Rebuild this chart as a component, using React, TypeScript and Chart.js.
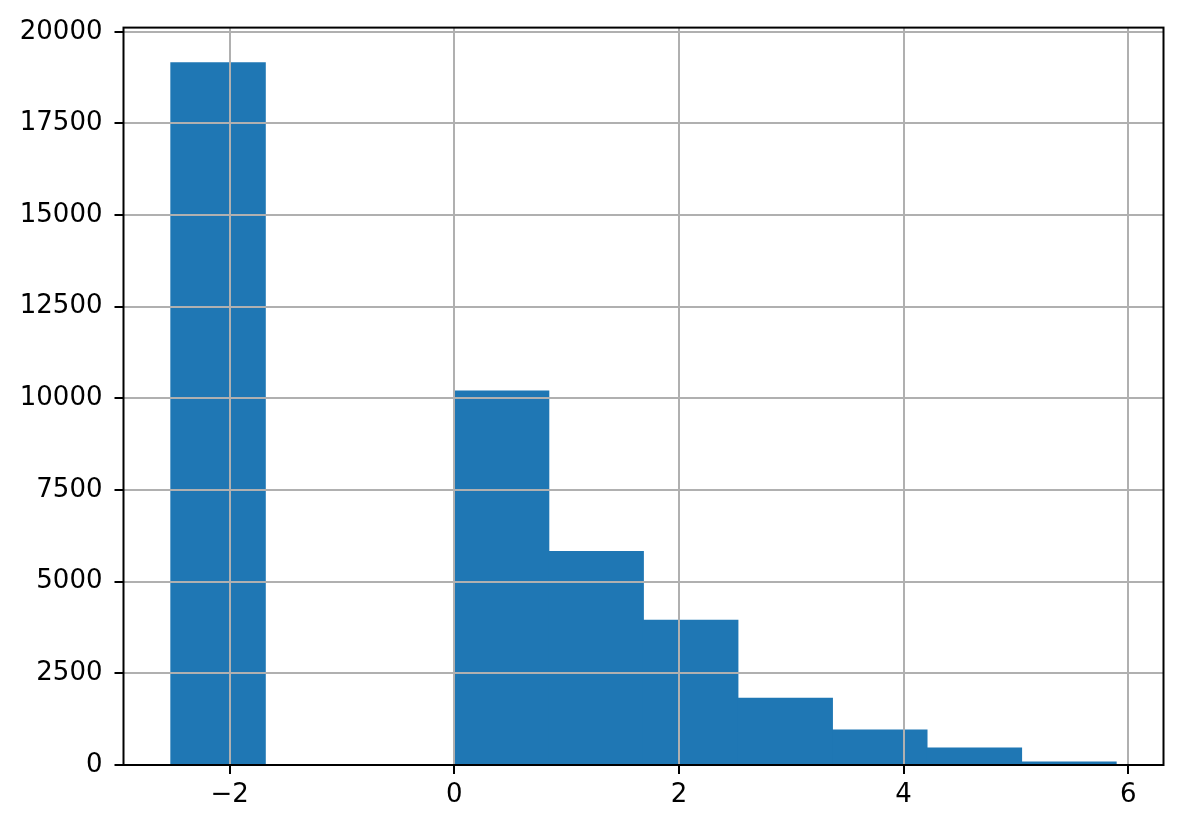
import React, { useEffect, useRef } from "react";
import { Chart, registerables } from "chart.js";

Chart.register(...registerables);

const binEdges = [-2.524, -1.682, -0.841, 0.0, 0.842, 1.684, 2.525, 3.367, 4.209, 5.051, 5.893];
const counts = [19156, 0, 0, 10204, 5823, 3946, 1823, 952, 463, 82];
const xTicks = [-2, 0, 2, 4, 6];
const yTicks = [0, 2500, 5000, 7500, 10000, 12500, 15000, 17500, 20000];

const spinePlugin = {
  id: "spines",
  afterDraw(chart: any) {
    const { ctx, chartArea } = chart;
    ctx.save();
    ctx.strokeStyle = "#000";
    ctx.lineWidth = 2;
    ctx.strokeRect(chartArea.left, chartArea.top, chartArea.right - chartArea.left, chartArea.bottom - chartArea.top);
    ctx.restore();
  },
};

export default function App() {
  const ref = useRef<HTMLCanvasElement | null>(null);
  useEffect(() => {
    if (!ref.current) return;
    const centers = counts.map((_, i) => (binEdges[i] + binEdges[i + 1]) / 2);
    const span = binEdges[binEdges.length - 1] - binEdges[0];
    const xMin = binEdges[0] - 0.05 * span;
    const xMax = binEdges[binEdges.length - 1] + 0.05 * span;
    const yMax = Math.max(...counts) * 1.05;
    Chart.defaults.font.family = "'DejaVu Sans', sans-serif";
    Chart.defaults.font.size = 26;
    Chart.defaults.color = "#000";
    const chart = new Chart(ref.current, {
      type: "bar",
      data: {
        datasets: [
          {
            data: centers.map((c, i) => ({ x: c, y: counts[i] })),
            backgroundColor: "#1f77b4",
            borderWidth: 0,
            inflateAmount: 0.5,
            barPercentage: 1,
            categoryPercentage: 1,
          },
        ],
      },
      options: {
        animation: false,
        responsive: false,
        layout: { padding: { top: 26, right: 19.5, left: 0, bottom: 0 } },
        plugins: { legend: { display: false }, tooltip: { enabled: false } },
        scales: {
          x: {
            type: "linear",
            offset: false,
            min: xMin,
            max: xMax,
            afterBuildTicks: (scale: any) => {
              scale.ticks = xTicks.map((v) => ({ value: v }));
            },
            afterFit: (scale: any) => {
              scale.height = 64;
            },
            ticks: {
              padding: 6,
              autoSkip: false,
              maxRotation: 0,
              callback: (v: any) => (Number(v) < 0 ? "\u2212" + Math.abs(Number(v)) : String(v)),
            },
            grid: {
              offset: false,
              color: "#b0b0b0",
              lineWidth: 2,
              tickColor: "#000",
              tickWidth: 2,
              tickLength: 9,
              z: 1,
            },
            border: { display: false },
          },
          y: {
            min: 0,
            max: yMax,
            afterBuildTicks: (scale: any) => {
              scale.ticks = yTicks.map((v) => ({ value: v }));
            },
            afterFit: (scale: any) => {
              scale.width = 123.5;
            },
            ticks: {
              padding: 12,
              autoSkip: false,
              callback: (v: any) => String(v),
            },
            grid: {
              color: "#b0b0b0",
              lineWidth: 2,
              tickColor: "#000",
              tickWidth: 2,
              tickLength: 9,
              z: 1,
            },
            border: { display: false },
          },
        },
      },
      plugins: [spinePlugin],
    });
    return () => chart.destroy();
  }, []);
  return (
    <div style={{ position: "absolute", left: 0, top: 0, width: 1183, height: 829, background: "#fff" }}>
      <canvas ref={ref} width={1183} height={829} style={{ display: "block", width: 1183, height: 829 }} />
    </div>
  );
}
